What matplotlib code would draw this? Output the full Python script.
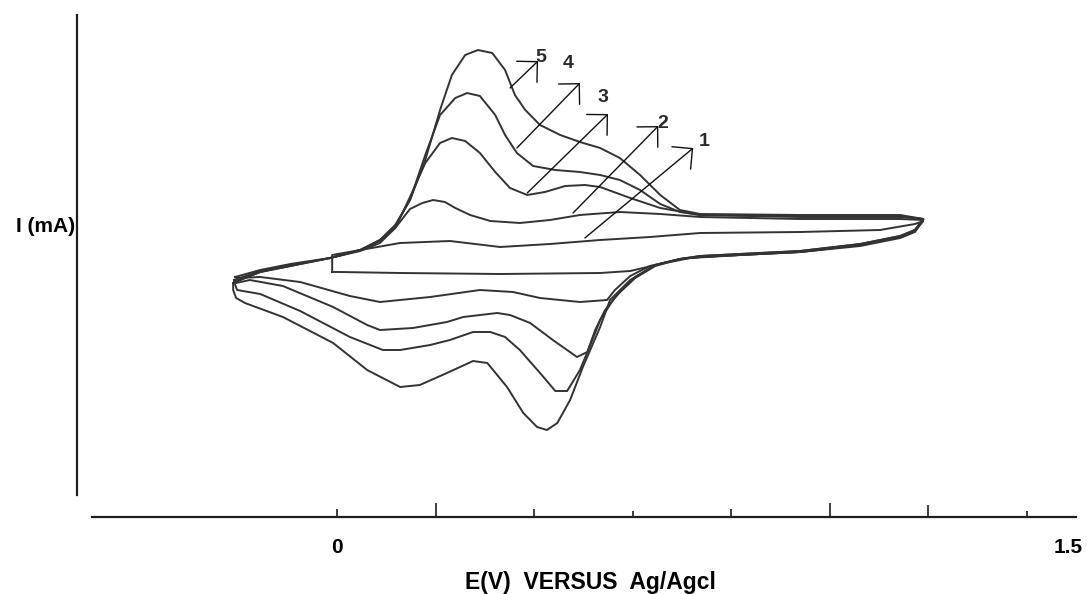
import matplotlib
matplotlib.use("Agg")
import matplotlib.pyplot as plt
from matplotlib.transforms import ScaledTranslation

# Cyclic voltammograms, scans 1-5 (E in V vs Ag/AgCl, I in mA).
# Each loop: forward (anodic) sweep, then reverse (cathodic) sweep back.
cv1_E = [-0.010, -0.010, 0.047, 0.128, 0.229, 0.331, 0.432, 0.534, 0.635, 0.737,
         0.940, 1.102, 1.173, 1.190,
         1.173, 1.143, 1.062, 0.940, 0.818, 0.717, 0.656, 0.595, 0.534, 0.331,
         0.128, 0.006, -0.010]
cv1_I = [-0.10, 0.07, 0.12, 0.19, 0.21, 0.15, 0.18, 0.22, 0.25, 0.29,
         0.30, 0.32, 0.38, 0.41,
         0.31, 0.25, 0.17, 0.10, 0.07, 0.04, -0.02, -0.09, -0.11, -0.12,
         -0.11, -0.10, -0.10]

cv2_E = [-0.207, -0.156, -0.095, -0.014, 0.047, 0.087, 0.118, 0.148, 0.173, 0.195,
         0.219, 0.240, 0.270, 0.311, 0.371, 0.432, 0.493, 0.574, 0.656, 0.737,
         0.940, 1.143, 1.190,
         1.173, 1.143, 1.062, 0.940, 0.818, 0.737, 0.696, 0.635, 0.595, 0.564,
         0.548, 0.493, 0.412, 0.357, 0.290, 0.189, 0.087, 0.026, -0.075, -0.156,
         -0.203, -0.207]
cv2_I = [-0.15, -0.08, -0.02, 0.04, 0.11, 0.19, 0.34, 0.53, 0.59, 0.62,
         0.60, 0.54, 0.47, 0.41, 0.39, 0.42, 0.47, 0.50, 0.48, 0.45,
         0.43, 0.43, 0.42,
         0.30, 0.24, 0.16, 0.10, 0.07, 0.05, 0.03, -0.04, -0.14, -0.28,
         -0.38, -0.40, -0.36, -0.30, -0.28, -0.35, -0.40, -0.34, -0.20, -0.15,
         -0.16, -0.15]

cv3_E = [-0.209, -0.156, -0.095, -0.014, 0.047, 0.087, 0.118, 0.148, 0.179, 0.209,
         0.233, 0.260, 0.290, 0.321, 0.351, 0.386, 0.422, 0.463, 0.503, 0.534,
         0.595, 0.656, 0.737, 0.940, 1.143, 1.190,
         1.173, 1.143, 1.062, 0.940, 0.818, 0.737, 0.696, 0.646, 0.605, 0.574,
         0.544, 0.524, 0.508, 0.487, 0.438, 0.392, 0.351, 0.325, 0.256, 0.223,
         0.154, 0.087, 0.061, -0.008, -0.110, -0.177, -0.205, -0.209]
cv3_I = [-0.18, -0.09, -0.03, 0.04, 0.12, 0.21, 0.34, 0.65, 0.99, 1.19,
         1.24, 1.21, 1.09, 0.90, 0.74, 0.67, 0.70, 0.76, 0.77, 0.75,
         0.64, 0.54, 0.47, 0.45, 0.45, 0.43,
         0.31, 0.25, 0.17, 0.10, 0.07, 0.05, 0.03, -0.03, -0.15, -0.30,
         -0.48, -0.68, -0.90, -0.95, -0.78, -0.61, -0.53, -0.51, -0.55, -0.60,
         -0.66, -0.68, -0.63, -0.45, -0.24, -0.18, -0.21, -0.18]

cv4_E = [-0.209, -0.156, -0.095, -0.014, 0.047, 0.087, 0.118, 0.148, 0.179, 0.209,
         0.240, 0.264, 0.290, 0.321, 0.341, 0.365, 0.398, 0.443, 0.493, 0.534,
         0.574, 0.615, 0.656, 0.696, 0.737, 0.940, 1.143, 1.190,
         1.173, 1.143, 1.062, 0.940, 0.818, 0.737, 0.696, 0.646, 0.605, 0.564,
         0.534, 0.514, 0.493, 0.467, 0.443, 0.412, 0.371, 0.341, 0.311, 0.276,
         0.229, 0.189, 0.128, 0.093, 0.026, -0.075, -0.156, -0.203, -0.209]
cv4_I = [-0.20, -0.10, -0.04, 0.04, 0.12, 0.22, 0.36, 0.62, 1.07, 1.47,
         1.64, 1.69, 1.66, 1.47, 1.27, 1.09, 0.96, 0.92, 0.90, 0.87,
         0.82, 0.72, 0.58, 0.50, 0.47, 0.46, 0.46, 0.43,
         0.32, 0.26, 0.18, 0.11, 0.08, 0.06, 0.03, -0.04, -0.16, -0.35,
         -0.58, -0.83, -1.08, -1.29, -1.29, -1.11, -0.88, -0.75, -0.70, -0.70,
         -0.78, -0.83, -0.88, -0.88, -0.75, -0.49, -0.32, -0.28, -0.20]

cv5_E = [-0.211, -0.156, -0.095, -0.014, 0.047, 0.087, 0.118, 0.148, 0.179, 0.209,
         0.233, 0.260, 0.286, 0.315, 0.341, 0.361, 0.382, 0.412, 0.453, 0.493,
         0.534, 0.574, 0.615, 0.656, 0.696, 0.737, 0.940, 1.143, 1.190,
         1.173, 1.143, 1.062, 0.940, 0.818, 0.737, 0.696, 0.646, 0.595, 0.554,
         0.534, 0.499, 0.473, 0.447, 0.426, 0.406, 0.378, 0.345, 0.305, 0.276,
         0.223, 0.168, 0.128, 0.061, -0.008, -0.110, -0.187, -0.205, -0.211, -0.211]
cv5_I = [-0.21, -0.10, -0.04, 0.04, 0.12, 0.22, 0.37, 0.62, 1.02, 1.52,
         1.87, 2.07, 2.12, 2.09, 1.92, 1.67, 1.52, 1.37, 1.27, 1.20,
         1.14, 1.04, 0.87, 0.67, 0.52, 0.48, 0.47, 0.47, 0.43,
         0.32, 0.26, 0.18, 0.11, 0.08, 0.06, 0.03, -0.03, -0.18, -0.38,
         -0.65, -1.05, -1.38, -1.61, -1.68, -1.65, -1.51, -1.25, -1.01, -0.99,
         -1.11, -1.23, -1.25, -1.08, -0.81, -0.55, -0.41, -0.36, -0.28, -0.21]

scan_labels = ["1", "2", "3", "4", "5"]
# arrow from a point on each scan to its number label
arrow_start_E = [0.503, 0.479, 0.386, 0.365, 0.351]
arrow_start_I = [0.24, 0.49, 0.69, 1.14, 1.74]
arrow_tip_E = [0.723, 0.652, 0.550, 0.493, 0.408]
arrow_tip_I = [1.14, 1.36, 1.48, 1.79, 2.01]
label_E = [0.745, 0.662, 0.540, 0.469, 0.414]
label_I = [1.21, 1.38, 1.65, 1.98, 2.04]

x_ticks = [0.0, 0.2, 0.4, 0.6, 0.8, 1.0, 1.2, 1.4, 1.5]
x_tick_labels = ["0", "", "", "", "", "", "", "", "1.5"]

LINE = "#333333"
AXIS = "#1e1e1e"
SANS = ["Liberation Sans", "DejaVu Sans"]

fig = plt.figure(figsize=(10.87, 5.94), dpi=100)
ax = fig.add_axes([77 / 1087, 77 / 594, 999 / 1087, 502 / 594])
ax.set_xlim(-0.528, 1.500)
ax.set_ylim(-2.55, 2.47)

for E, I in [(cv1_E, cv1_I), (cv2_E, cv2_I), (cv3_E, cv3_I), (cv4_E, cv4_I), (cv5_E, cv5_I)]:
    ax.plot(E, I, color=LINE, lw=1.4, solid_joinstyle="round")

for k, lab in enumerate(scan_labels):
    ax.annotate("", xy=(arrow_tip_E[k], arrow_tip_I[k]),
                xytext=(arrow_start_E[k], arrow_start_I[k]),
                arrowprops=dict(arrowstyle="->,head_length=1.05,head_width=1.05",
                                color="#111111", lw=1.0, shrinkA=0, shrinkB=0,
                                mutation_scale=10))
    ax.text(label_E[k], label_I[k], lab, ha="center", va="center", fontsize=14,
            fontweight="bold", color="#2a2a2a", family=SANS)

for side in ["top", "right"]:
    ax.spines[side].set_visible(False)
ax.spines["left"].set_bounds(-2.33, 2.47)
ax.spines["left"].set_linewidth(1.6)
ax.spines["left"].set_color(AXIS)
ax.spines["bottom"].set_bounds(-0.497, 1.5)
ax.spines["bottom"].set_linewidth(1.6)
ax.spines["bottom"].set_color(AXIS)
ax.set_yticks([])

ax.set_xticks(x_ticks)
ax.set_xticklabels(x_tick_labels, fontsize=15, fontweight="bold", family=SANS)
ax.tick_params(axis="x", direction="in", length=7, width=1.2, color=AXIS, pad=15)
tick_lengths = [6, 10, 6, 4, 6, 10, 9, 4, 0]
for tick, length in zip(ax.xaxis.get_major_ticks(), tick_lengths):
    tick.tick1line.set_markersize(length)
# keep the end label inside the canvas
end_label = ax.get_xticklabels()[-1]
end_label.set_transform(end_label.get_transform() + ScaledTranslation(-8 / 100, 0, fig.dpi_scale_trans))

ax.set_xlabel("E(V)  VERSUS  Ag/Agcl", fontsize=16.5, fontweight="bold", family=SANS)
ax.xaxis.set_label_coords(0.5135, -0.108)
ax.set_ylabel("I (mA)", rotation=0, ha="center", va="center", fontsize=15,
              fontweight="bold", family=SANS)
ax.yaxis.set_label_coords(-31 / 999, 290 / 502)

fig.savefig("out.png", dpi=100)
